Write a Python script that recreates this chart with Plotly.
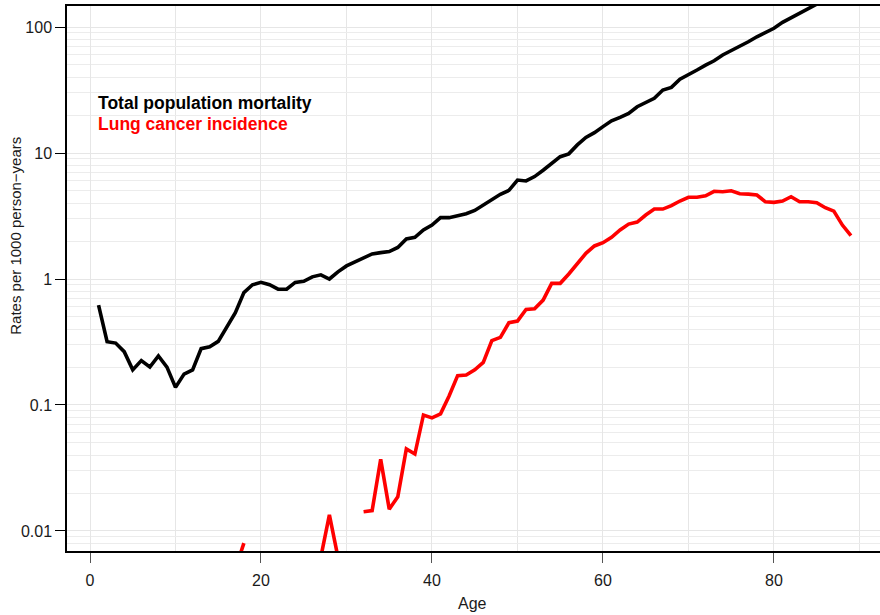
import plotly.graph_objects as go

ages = list(range(1, 90))

mortality = [0.62, 0.318, 0.31, 0.265, 0.19, 0.225, 0.20, 0.245, 0.20, 0.138,
             0.176, 0.19, 0.28, 0.29, 0.32, 0.42, 0.54, 0.78, 0.90, 0.94,
             0.90, 0.83, 0.83, 0.94, 0.96, 1.04, 1.08, 1.0, 1.14, 1.27,
             1.36, 1.46, 1.58, 1.62, 1.65, 1.78, 2.08, 2.14, 2.45, 2.68,
             3.07, 3.07, 3.18, 3.3, 3.5, 3.87, 4.3, 4.7, 5.05, 6.1,
             6.0, 6.5, 7.3, 8.35, 9.35, 9.85, 11.6, 13.3, 14.5, 16.2,
             18.0, 19.2, 20.6, 23.3, 25.3, 27.2, 31.6, 33.2, 38.5, 41.6,
             45.6, 49.9, 54, 60, 64.9, 69.8, 76.4, 83.7, 90.7, 97.7,
             109, 118.6, 128.5, 138, 152, None, None, None, None]

lung = [None] * 16 + [0.005, 0.008] + [None] * 8 + [0.0062, 0.0134, 0.0062, None, None,
        0.0142, 0.0145, 0.037, 0.0149, 0.0187, 0.0448, 0.0408, 0.0833, 0.079,
        0.085, 0.118, 0.171, 0.173, 0.19, 0.218, 0.324, 0.344, 0.45, 0.464,
        0.574, 0.58, 0.68, 0.924, 0.924, 1.096, 1.316, 1.6, 1.83, 1.94,
        2.14, 2.45, 2.73, 2.83, 3.22, 3.59, 3.59, 3.82, 4.16, 4.45,
        4.45, 4.58, 4.97, 4.93, 5.02, 4.75, 4.72, 4.64, 4.1, 4.06,
        4.16, 4.5, 4.1, 4.1, 4.03, 3.68, 3.46, 2.68, 2.21]

series_names = ["Total population mortality", "Lung cancer incidence"]
series_colors = ["black", "#ff0000"]

y_tickvals = [0.01, 0.1, 1, 10, 100]
y_ticktext = ["0.01", "0.1", "1", "10", "100"]
x_tickvals = [0, 20, 40, 60, 80]

minor_vals = [m * 10 ** e for e in range(-3, 3) for m in range(2, 10)]

FONT = "Liberation Sans, Arial, sans-serif"

fig = go.Figure()
for vals, name, col in zip([mortality, lung], series_names, series_colors):
    fig.add_trace(go.Scatter(x=ages, y=vals, mode="lines", name=name,
                             line=dict(color=col, width=3.6),
                             connectgaps=False, showlegend=False))

fig.update_layout(
    width=880, height=615,
    margin=dict(l=67, r=0, t=6, b=64),
    paper_bgcolor="white", plot_bgcolor="white",
    font=dict(family=FONT, size=16, color="black"),
    xaxis=dict(range=[-2.69, 92.4], tickvals=x_tickvals,
               showgrid=True, gridcolor="#e6e6e6", gridwidth=1,
               minor=dict(dtick=10, tick0=0, showgrid=True, gridcolor="#e6e6e6", gridwidth=1),
               showline=True, linecolor="black", linewidth=1.5, mirror=True,
               ticks="outside", ticklen=10, tickcolor="#555555", tickwidth=1.2,
               zeroline=False, tickfont=dict(size=16, color="#1a1a1a"),
               ticklabelstandoff=4),
    yaxis=dict(type="log", range=[-2.159, 2.167], tickvals=y_tickvals, ticktext=y_ticktext,
               showgrid=True, gridcolor="#e6e6e6", gridwidth=1,
               minor=dict(tickvals=minor_vals, showgrid=True, gridcolor="#ececec", gridwidth=1),
               showline=True, linecolor="black", linewidth=1.5, mirror=False,
               ticks="outside", ticklen=10, tickcolor="black", tickwidth=1.2,
               zeroline=False, tickfont=dict(size=16, color="#1a1a1a")),
    annotations=[
        dict(text="<b>" + series_names[0] + "</b>", x=(96 - 67) / 813, y=(551.5 - 103) / 545.5,
             xref="paper", yref="paper", xanchor="left", yanchor="middle",
             showarrow=False, font=dict(size=17.5, color=series_colors[0], family=FONT)),
        dict(text="<b>" + series_names[1] + "</b>", x=(96 - 67) / 813, y=(551.5 - 124) / 545.5,
             xref="paper", yref="paper", xanchor="left", yanchor="middle",
             showarrow=False, font=dict(size=17.5, color=series_colors[1], family=FONT)),
        dict(text="Age", x=(472 - 67) / 813, y=(551.5 - 604) / 545.5,
             xref="paper", yref="paper", xanchor="center", yanchor="middle",
             showarrow=False, font=dict(size=16, color="#1a1a1a", family=FONT)),
        dict(text="Rates per 1000 person\u2212years", x=(15.5 - 67) / 813,
             y=(551.5 - 236.5) / 545.5, textangle=-90,
             xref="paper", yref="paper", xanchor="center", yanchor="middle",
             showarrow=False, font=dict(size=15, color="#1a1a1a", family=FONT)),
    ],
)

fig.write_html("out.html")
